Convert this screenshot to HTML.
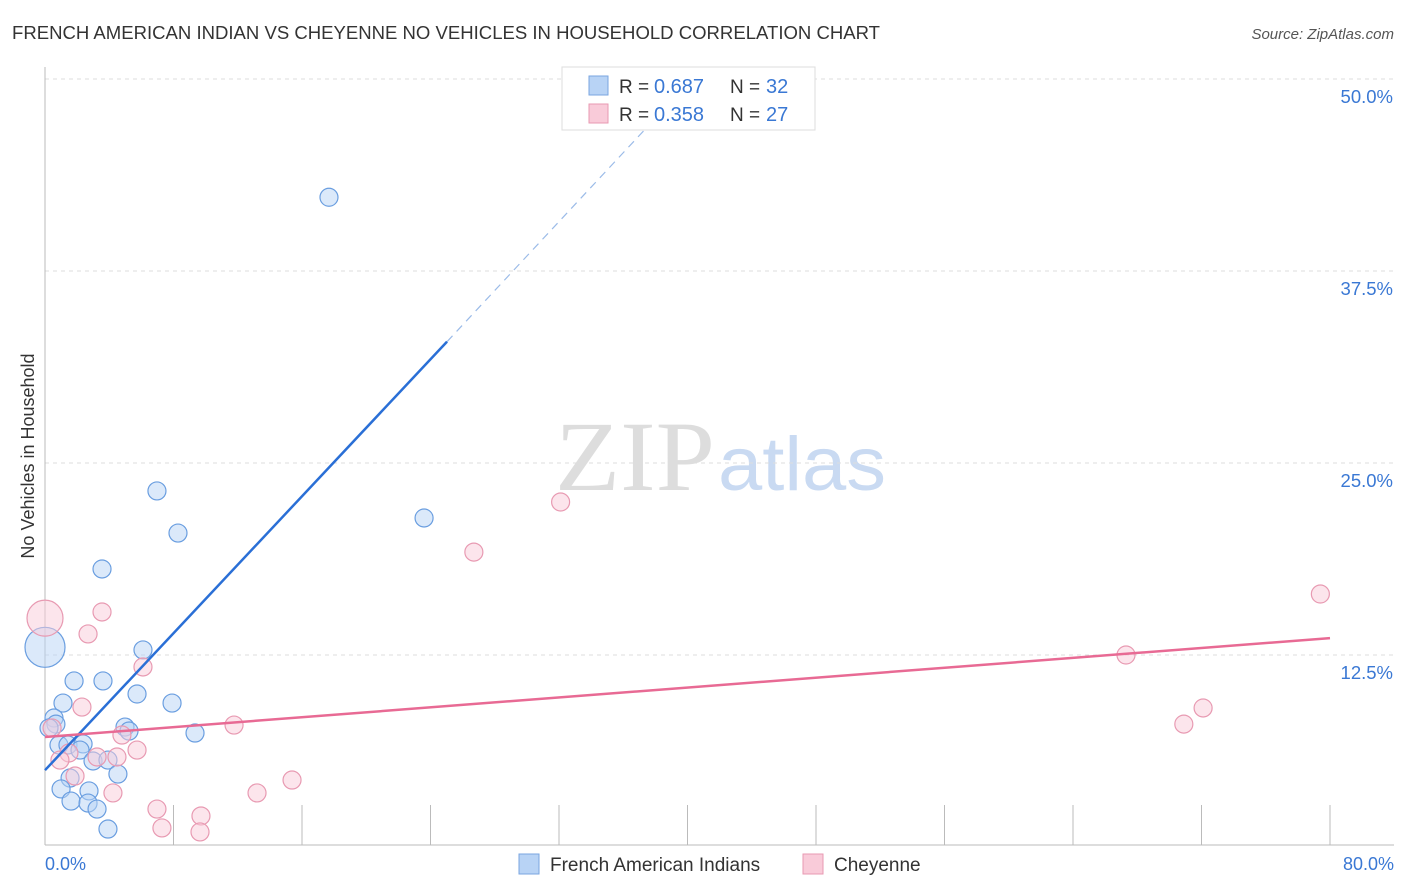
<!DOCTYPE html>
<html><head><meta charset="utf-8"><style>
body{margin:0;background:#fff;font-family:"Liberation Sans",sans-serif;}
</style></head><body>
<svg width="1406" height="892" style="display:block">
<text x="12" y="39" font-size="18" fill="#333" textLength="868" lengthAdjust="spacingAndGlyphs">FRENCH AMERICAN INDIAN VS CHEYENNE NO VEHICLES IN HOUSEHOLD CORRELATION CHART</text>
<text x="1394" y="39" font-size="15" fill="#555" font-style="italic" text-anchor="end">Source: ZipAtlas.com</text>
<g>
<text x="555" y="490" font-size="100" fill="#ddd" font-family="Liberation Serif,serif" textLength="160" lengthAdjust="spacingAndGlyphs">ZIP</text>
<text x="718" y="490" font-size="76" fill="#c9daf2" textLength="168" lengthAdjust="spacingAndGlyphs">atlas</text>
</g>
<g id="grid"></g>
<g id="axes"></g>
<g id="marks"></g>
<text transform="translate(34,456) rotate(-90)" font-size="18" fill="#333" text-anchor="middle">No Vehicles in Household</text>
<text x="45" y="870" font-size="18" fill="#3a78d4">0.0%</text>
<text x="1394" y="870" font-size="18" fill="#3a78d4" text-anchor="end">80.0%</text>
<g>
<rect x="562" y="67" width="253" height="63" fill="#fff" stroke="#ddd"/>
<rect x="589" y="76" width="19" height="19" fill="#b8d3f5" stroke="#7aa6e0"/>
<rect x="589" y="104" width="19" height="19" fill="#f9cbd9" stroke="#e89ab2"/>
<text x="619" y="93" font-size="19" fill="#333">R =</text>
<text x="654" y="93" font-size="20" fill="#3a78d4">0.687</text>
<text x="730" y="93" font-size="19" fill="#333">N =</text>
<text x="766" y="93" font-size="20" fill="#3a78d4">32</text>
<text x="619" y="121" font-size="19" fill="#333">R =</text>
<text x="654" y="121" font-size="20" fill="#3a78d4">0.358</text>
<text x="730" y="121" font-size="19" fill="#333">N =</text>
<text x="766" y="121" font-size="20" fill="#3a78d4">27</text>
</g>
<g>
<rect x="519" y="854" width="20" height="20" fill="#b8d3f5" stroke="#7aa6e0"/>
<text x="550" y="871" font-size="19" fill="#333">French American Indians</text>
<rect x="803" y="854" width="20" height="20" fill="#f9cbd9" stroke="#e89ab2"/>
<text x="834" y="871" font-size="19" fill="#333">Cheyenne</text>
</g>
</svg>
<script>
const yTicks=[12.5,25,37.5,50];
const yTickLabels=["12.5%","25.0%","37.5%","50.0%"];
const xTicks=[0,8,16,24,32,40,48,56,64,72,80];
const blueX=[17.68,6.97,8.28,23.6,3.55,6.1,1.81,3.61,5.73,1.12,7.91,0.56,0.68,4.98,5.23,9.34,0.87,1.43,2.37,2.18,2.99,3.92,4.54,1.56,1.0,2.74,1.62,2.68,3.24,3.92,0,0.25];
const blueY=[42.3,23.18,20.44,21.42,18.1,12.83,10.81,10.81,9.96,9.37,9.37,8.4,8.0,7.81,7.55,7.42,6.64,6.64,6.71,6.31,5.6,5.66,4.75,4.49,3.78,3.65,2.99,2.86,2.47,1.17,13.0,7.75];
const blueR=[9,9,9,9,9,9,9,9,9,9,9,9,9,9,9,9,9,9,9,9,9,9,9,9,9,9,9,9,9,9,20,9];
const pinkX=[32.1,26.7,79.4,67.3,3.55,2.68,6.1,2.3,11.77,72.1,70.9,4.79,0.44,5.73,3.24,4.48,1.49,1.87,4.23,6.97,15.38,13.2,9.71,7.28,9.65,0,0.93];
const pinkY=[22.46,19.2,16.47,12.5,15.3,13.87,11.72,9.11,7.94,9.05,8.0,7.29,7.75,6.31,5.86,5.86,6.12,4.62,3.52,2.47,4.36,3.52,2.02,1.24,0.98,14.9,5.66];
const pinkR=[9,9,9,9,9,9,9,9,9,9,9,9,9,9,9,9,9,9,9,9,9,9,9,9,9,18,9];
const blueLine=[[0,5.0],[25.03,32.9]];
const blueDash=[[25.03,32.9],[39.3,48.9]];
const pinkLine=[[0,7.16],[80,13.6]];
const X=v=>45+v/80*1285, Y=v=>847-v/12.5*192;
const NS="http://www.w3.org/2000/svg";
function mk(t,a,p){const e=document.createElementNS(NS,t);for(const k in a)e.setAttribute(k,a[k]);document.getElementById(p).appendChild(e);return e;}
yTicks.forEach((v,i)=>{
 const l=mk('line',{x1:45,x2:1394,y1:Y(v),y2:Y(v),stroke:'#ddd','stroke-dasharray':'4,4'},'grid');
 
 
 const t=mk('text',{x:1393,y:Y(v)+24,'font-size':18.5,fill:'#3a78d4','text-anchor':'end'},'grid');t.textContent=yTickLabels[i];
 
 
});
const ya=mk('line',{x1:45,x2:45,y1:67,y2:845,stroke:'#bbb'},'axes');


const xa=mk('line',{x1:45,x2:1394,y1:845,y2:845,stroke:'#bbb'},'axes');


xTicks.forEach(v=>{const t=mk('line',{x1:X(v),x2:X(v),y1:805,y2:845,stroke:'#bbb'},'axes');
 
 });
function dots(xs,ys,rs,fill,stroke,name){xs.forEach((x,i)=>{
 const c=mk('circle',{cx:X(x),cy:Y(ys[i]),r:rs[i],fill:fill,'fill-opacity':0.5,stroke:stroke,'stroke-width':1.2},'marks');
 
 });}
dots(blueX,blueY,blueR,'#b8d3f5','#6a9ee0','point-french-american-indian');
dots(pinkX,pinkY,pinkR,'#f9cbd9','#e89ab2','point-cheyenne');
const bl=mk('line',{x1:X(blueLine[0][0]),y1:Y(blueLine[0][1]),x2:X(blueLine[1][0]),y2:Y(blueLine[1][1]),stroke:'#2a6fd6','stroke-width':2.5},'marks');


const bd=mk('line',{x1:X(blueDash[0][0]),y1:Y(blueDash[0][1]),x2:X(blueDash[1][0]),y2:Y(blueDash[1][1]),stroke:'#9bbbe8','stroke-width':1.2,'stroke-dasharray':'8,6'},'marks');


const pl=mk('line',{x1:X(pinkLine[0][0]),y1:Y(pinkLine[0][1]),x2:X(pinkLine[1][0]),y2:Y(pinkLine[1][1]),stroke:'#e86a94','stroke-width':2.5},'marks');


</script>
</body></html>
